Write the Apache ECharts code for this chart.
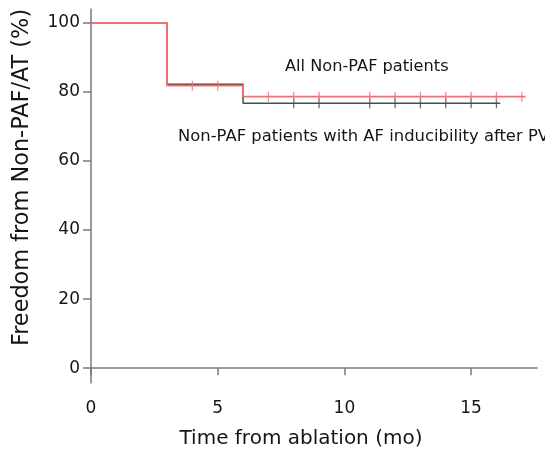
<!DOCTYPE html>
<html>
<head>
<meta charset="utf-8">
<script src="https://cdn.jsdelivr.net/npm/echarts@6/dist/echarts.min.js"></script>
<style>
html,body{margin:0;padding:0;background:#fff;overflow:hidden;}
#c{width:545px;height:454px;}
</style>
</head>
<body>
<div id="c"></div>
<script>
// Kaplan-Meier step data
const allTimes = [0, 3, 6, 17.15];
const allSurv = [100, 81.8, 78.6, 78.6];
const allCensor = [4, 5, 7, 8, 9, 11, 12, 13, 14, 15, 16, 17];

const inducTimes = [0, 3, 6, 16.15];
const inducSurv = [100, 82.2, 76.7, 76.7];
const inducCensor = [8, 9, 11, 12, 13, 14, 15, 16];

const xTicks = [0, 5, 10, 15];
const yTicks = [0, 20, 40, 60, 80, 100];

const labelAll = 'All Non-PAF patients';
const labelInduc = 'Non-PAF patients with AF inducibility after PVI';
const xTitle = 'Time from ablation (mo)';
const yTitle = 'Freedom from Non-PAF/AT (%)';

function stepValue(times, surv, t) {
  let v = surv[0];
  for (let i = 0; i < times.length; i++) { if (times[i] <= t) v = surv[i]; }
  return v;
}
const zip = (a, b) => a.map((v, i) => [v, b[i]]);

const chart = echarts.init(document.getElementById('c'), null, {renderer: 'canvas'});
const font = '"DejaVu Sans", sans-serif';
const axisColor = '#7a7a7a';
const red = '#ff6b6b';
const dark = '#4a4a4a';
const txt = '#151515';

chart.setOption({
  animation: false,
  grid: {left: 91, right: 8, top: 9, bottom: 71, containLabel: false},
  xAxis: {
    type: 'value', min: 0, max: 17.6,
    axisLine: {show: true, lineStyle: {color: axisColor, width: 1.5}},
    axisTick: {show: true, length: 7, inside: false, customValues: xTicks, lineStyle: {color: axisColor, width: 1.5}},
    axisLabel: {customValues: xTicks, color: txt, fontSize: 17, fontFamily: font, margin: 17},
    splitLine: {show: false}
  },
  yAxis: {
    type: 'value', min: -4.3, max: 104,
    axisLine: {show: true, lineStyle: {color: axisColor, width: 1.5}},
    axisTick: {show: true, length: 8, inside: false, customValues: yTicks, lineStyle: {color: axisColor, width: 1.5}},
    axisLabel: {customValues: yTicks, color: txt, fontSize: 17, fontFamily: font, margin: 11},
    splitLine: {show: false}
  },
  series: [
    {
      type: 'line', step: 'end', data: zip(inducTimes, inducSurv), showSymbol: false,
      lineStyle: {color: dark, width: 1.5}, z: 2
    },
    {
      type: 'scatter', data: inducCensor.map(t => [t, stepValue(inducTimes, inducSurv, t)]),
      symbol: 'rect', symbolSize: [1.3, 10], itemStyle: {color: dark}, z: 3
    },
    {
      type: 'line', step: 'end', data: zip(allTimes, allSurv), showSymbol: false,
      lineStyle: {color: red, width: 1.8}, z: 4
    },
    {
      type: 'scatter', data: allCensor.map(t => [t, stepValue(allTimes, allSurv, t)]),
      symbol: 'rect', symbolSize: [1.3, 10], itemStyle: {color: red}, z: 5
    }
  ],
  graphic: [
    {type: 'text', x: 285, y: 66.5, style: {text: labelAll, fontSize: 16.2, fontFamily: font, fill: txt, verticalAlign: 'middle'}},
    {type: 'text', x: 178, y: 136.5, style: {text: labelInduc, fontSize: 16.4, fontFamily: font, fill: txt, verticalAlign: 'middle'}},
    {type: 'text', x: 301, y: 439, style: {text: xTitle, fontSize: 20, fontFamily: font, fill: txt, align: 'center', verticalAlign: 'middle'}},
    {type: 'text', x: 22.5, y: 177.5, rotation: Math.PI / 2, style: {text: yTitle, fontSize: 22.4, fontFamily: font, fill: txt, align: 'center', verticalAlign: 'middle'}}
  ]
});
</script>
</body>
</html>
